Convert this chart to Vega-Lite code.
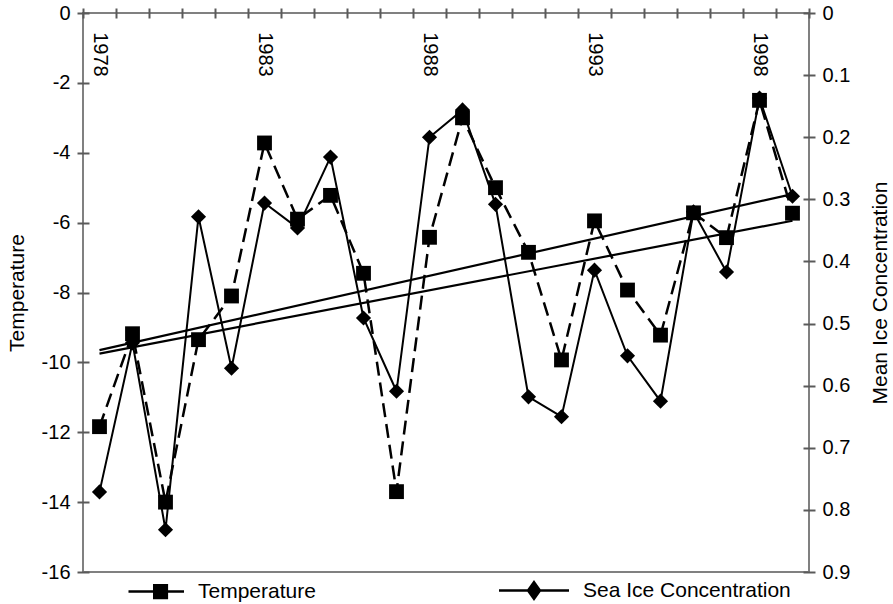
{
  "$schema": "https://vega.github.io/schema/vega-lite/v6.json",
  "width": 726,
  "height": 559,
  "autosize": {"type": "none"},
  "padding": {"left": 83, "top": 13, "right": 84, "bottom": 32},
  "background": "white",
  "config": {
    "font": "Liberation Sans",
    "view": {"stroke": "#808080", "strokeWidth": 2},
    "axis": {
      "labelFont": "Liberation Sans", "labelFontSize": 20, "labelColor": "#000",
      "titleFont": "Liberation Sans", "titleFontSize": 21, "titleFontWeight": "normal", "titleColor": "#000",
      "grid": false, "domain": false, "ticks": true, "tickColor": "#5a5a5a", "tickWidth": 2,
      "labelOverlap": false, "labelFlush": false, "labelBound": false
    }
  },
  "datasets": {
    "main": [
      {"year": 1978, "temperature": -11.84, "ice": 0.771},
      {"year": 1979, "temperature": -9.18, "ice": 0.531},
      {"year": 1980, "temperature": -14.0, "ice": 0.832},
      {"year": 1981, "temperature": -9.35, "ice": 0.328},
      {"year": 1982, "temperature": -8.1, "ice": 0.572},
      {"year": 1983, "temperature": -3.72, "ice": 0.306},
      {"year": 1984, "temperature": -5.9, "ice": 0.346},
      {"year": 1985, "temperature": -5.22, "ice": 0.232},
      {"year": 1986, "temperature": -7.45, "ice": 0.491},
      {"year": 1987, "temperature": -13.7, "ice": 0.609},
      {"year": 1988, "temperature": -6.42, "ice": 0.2},
      {"year": 1989, "temperature": -3.0, "ice": 0.156},
      {"year": 1990, "temperature": -5.0, "ice": 0.308},
      {"year": 1991, "temperature": -6.85, "ice": 0.618},
      {"year": 1992, "temperature": -9.93, "ice": 0.65},
      {"year": 1993, "temperature": -5.95, "ice": 0.414},
      {"year": 1994, "temperature": -7.93, "ice": 0.552},
      {"year": 1995, "temperature": -9.22, "ice": 0.625},
      {"year": 1996, "temperature": -5.72, "ice": 0.32},
      {"year": 1997, "temperature": -6.43, "ice": 0.417},
      {"year": 1998, "temperature": -2.5, "ice": 0.137},
      {"year": 1999, "temperature": -5.73, "ice": 0.295}
    ]
  },
  "encoding": {
    "x": {
      "field": "year", "type": "quantitative",
      "scale": {"domain": [1977.5, 1999.5], "nice": false, "zero": false},
      "axis": {
        "orient": "top", "title": null,
        "values": [1977.5, 1978.5, 1979.5, 1980.5, 1981.5, 1982.5, 1983.5, 1984.5, 1985.5, 1986.5, 1987.5, 1988.5, 1989.5, 1990.5, 1991.5, 1992.5, 1993.5, 1994.5, 1995.5, 1996.5, 1997.5, 1998.5, 1999.5],
        "labels": false,
        "tickOpacity": {"condition": {"test": "datum.value % 1 !== 0", "value": 1}, "value": 0},
        "tickColor": "#5a5a5a", "tickWidth": 2,
        "offset": -5, "tickSize": 10, "zindex": 1
      }
    }
  },
  "layer": [
    {
      "data": {"name": "main"},
      "mark": {"type": "line", "color": "black", "strokeWidth": 2.5, "strokeDash": [14, 7]},
      "encoding": {
        "y": {
          "field": "temperature", "type": "quantitative",
          "scale": {"domain": [-16, 0], "nice": false, "zero": false},
          "axis": {
            "orient": "left", "title": "Temperature",
            "values": [0, -2, -4, -6, -8, -10, -12, -14, -16],
            "labelExpr": "'' + datum.value", "labelAlign": "right",
            "offset": -6, "tickSize": 12, "labelPadding": 7, "titlePadding": 14, "zindex": 1
          }
        }
      }
    },
    {
      "data": {"name": "main"},
      "mark": {"type": "point", "shape": "square", "filled": true, "color": "black", "size": 220, "opacity": 1},
      "encoding": {
        "y": {"field": "temperature", "type": "quantitative", "scale": {"domain": [-16, 0], "nice": false, "zero": false}, "axis": null}
      }
    },
    {
      "data": {"name": "main"},
      "transform": [{"regression": "temperature", "on": "year"}],
      "mark": {"type": "line", "color": "black", "strokeWidth": 2.2},
      "encoding": {
        "y": {"field": "temperature", "type": "quantitative", "scale": {"domain": [-16, 0], "nice": false, "zero": false}, "axis": null}
      }
    },
    {
      "data": {"name": "main"},
      "mark": {"type": "line", "color": "black", "strokeWidth": 2},
      "encoding": {
        "y": {
          "field": "ice", "type": "quantitative",
          "scale": {"domain": [0, 0.9], "nice": false, "zero": false, "reverse": true},
          "axis": {
            "orient": "right", "title": "Mean Ice Concentration",
            "values": [0, 0.1, 0.2, 0.3, 0.4, 0.5, 0.6, 0.7, 0.8, 0.9],
            "format": ".1~f", "labelAlign": "left",
            "offset": -6, "tickSize": 12, "labelPadding": 7,
            "titleAngle": 270, "titleBaseline": "top", "titlePadding": 20, "zindex": 1
          }
        }
      }
    },
    {
      "data": {"name": "main"},
      "mark": {"type": "point", "shape": "diamond", "filled": true, "color": "black", "size": 230, "opacity": 1},
      "encoding": {
        "y": {"field": "ice", "type": "quantitative", "scale": {"domain": [0, 0.9], "nice": false, "zero": false, "reverse": true}, "axis": null}
      }
    },
    {
      "data": {"name": "main"},
      "transform": [{"regression": "ice", "on": "year"}],
      "mark": {"type": "line", "color": "black", "strokeWidth": 2.2},
      "encoding": {
        "y": {"field": "ice", "type": "quantitative", "scale": {"domain": [0, 0.9], "nice": false, "zero": false, "reverse": true}, "axis": null}
      }
    },
    {
      "data": {"values": [
        {"temperature": 0}, {"temperature": -2}, {"temperature": -4}, {"temperature": -6}, {"temperature": -8},
        {"temperature": -10}, {"temperature": -12}, {"temperature": -14}, {"temperature": -16}
      ]},
      "mark": {"type": "tick", "orient": "horizontal", "size": 12, "thickness": 2, "color": "#5a5a5a", "opacity": 1},
      "encoding": {
        "x": {"datum": 1977.5, "type": "quantitative"},
        "y": {"field": "temperature", "type": "quantitative", "scale": {"domain": [-16, 0], "nice": false, "zero": false}, "axis": null}
      }
    },
    {
      "data": {"values": [
        {"ice": 0}, {"ice": 0.1}, {"ice": 0.2}, {"ice": 0.3}, {"ice": 0.4},
        {"ice": 0.5}, {"ice": 0.6}, {"ice": 0.7}, {"ice": 0.8}, {"ice": 0.9}
      ]},
      "mark": {"type": "tick", "orient": "horizontal", "size": 12, "thickness": 2, "color": "#5a5a5a", "opacity": 1},
      "encoding": {
        "x": {"datum": 1999.5, "type": "quantitative"},
        "y": {"field": "ice", "type": "quantitative", "scale": {"domain": [0, 0.9], "nice": false, "zero": false, "reverse": true}, "axis": null}
      }
    },
    {
      "data": {"values": [
        {"year": 1978, "label": "1978"},
        {"year": 1983, "label": "1983"},
        {"year": 1988, "label": "1988"},
        {"year": 1993, "label": "1993"},
        {"year": 1998, "label": "1998"}
      ]},
      "mark": {"type": "text", "angle": 90, "align": "left", "baseline": "middle", "fontSize": 20, "font": "Liberation Sans", "color": "black"},
      "encoding": {
        "y": {"datum": -0.55, "type": "quantitative", "scale": {"domain": [-16, 0], "nice": false, "zero": false}, "axis": null},
        "text": {"field": "label", "type": "nominal"}
      }
    },
    {
      "data": {"values": [
        {"series": "Temperature"},
        {"series": "Sea Ice Concentration"}
      ]},
      "mark": {"type": "point", "filled": false, "color": "black", "strokeWidth": 2.5, "opacity": 0},
      "encoding": {
        "x": {"datum": 1990, "type": "quantitative"},
        "shape": {
          "field": "series", "type": "nominal",
          "scale": {
            "domain": ["Temperature", "Sea Ice Concentration"],
            "range": [
              "M-0.586,0H1M0.15,-0.18H0.51V0.18H0.15ZM0.15,-0.12H0.51M0.15,-0.06H0.51M0.15,0.06H0.51M0.15,0.12H0.51",
              "M-1,0H1M0,-0.24L0.17,0L0,0.24L-0.17,0ZM-0.043,-0.18H0.043M-0.085,-0.12H0.085M-0.128,-0.06H0.128M-0.128,0.06H0.128M-0.085,0.12H0.085M-0.043,0.18H0.043"
            ]
          },
          "legend": {
            "title": null, "orient": "none", "legendX": 29.5, "legendY": 541,
            "direction": "horizontal", "padding": 0, "columnPadding": 177,
            "symbolSize": 4900, "labelOffset": 12.5, "labelFontSize": 21, "labelFont": "Liberation Sans",
            "labelColor": "#000", "labelLimit": 400, "symbolOpacity": 1,
            "symbolFillColor": "black", "symbolStrokeColor": "black", "symbolStrokeWidth": 2.5
          }
        }
      }
    }
  ],
  "resolve": {"scale": {"y": "independent"}}
}
